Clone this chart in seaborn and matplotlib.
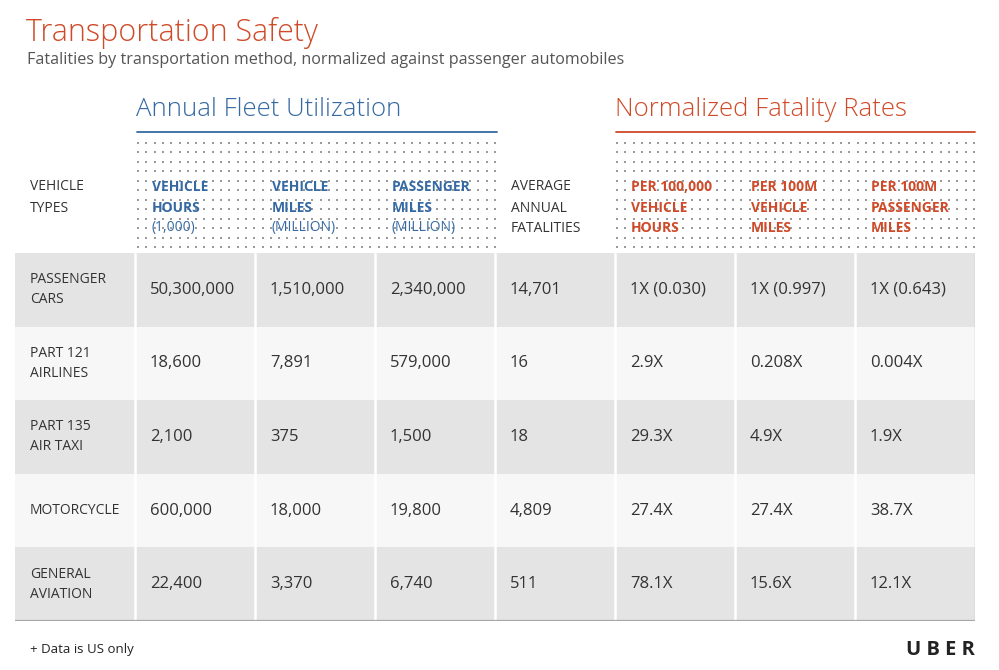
import numpy as np
import matplotlib
matplotlib.use("Agg")
import matplotlib.pyplot as plt
from matplotlib.colors import ListedColormap
import seaborn as sns

# Table content
vehicle_types = ["PASSENGER\nCARS", "PART 121\nAIRLINES", "PART 135\nAIR TAXI",
                 "MOTORCYCLE", "GENERAL\nAVIATION"]
vehicle_hours = ["50,300,000", "18,600", "2,100", "600,000", "22,400"]
vehicle_miles = ["1,510,000", "7,891", "375", "18,000", "3,370"]
passenger_miles = ["2,340,000", "579,000", "1,500", "19,800", "6,740"]
avg_fatalities = ["14,701", "16", "18", "4,809", "511"]
rate_vehicle_hours = ["1X (0.030)", "2.9X", "29.3X", "27.4X", "78.1X"]
rate_vehicle_miles = ["1X (0.997)", "0.208X", "4.9X", "27.4X", "15.6X"]
rate_passenger_miles = ["1X (0.643)", "0.004X", "1.9X", "38.7X", "12.1X"]

columns = [vehicle_types, vehicle_hours, vehicle_miles, passenger_miles,
           avg_fatalities, rate_vehicle_hours, rate_vehicle_miles, rate_passenger_miles]

header_types = ["VEHICLE", "TYPES"]
header_util = [("VEHICLE", "HOURS", "(1,000)"),
               ("VEHICLE", "MILES", "(MILLION)"),
               ("PASSENGER", "MILES", "(MILLION)")]
header_fatal = ["AVERAGE", "ANNUAL", "FATALITIES"]
header_rates = [("PER 100,000", "VEHICLE", "HOURS"),
                ("PER 100M", "VEHICLE", "MILES"),
                ("PER 100M", "PASSENGER", "MILES")]

BLUE = "#3569a3"
RED = "#cf4a28"
TEXT = "#333333"

sns.set_theme(style="white")
plt.rcParams["font.family"] = ["Open Sans", "DejaVu Sans"]

fig = plt.figure(figsize=(9.99, 6.70), dpi=100)
fig.patch.set_facecolor("white")

# pixel-coordinate background axes
bg = fig.add_axes([0, 0, 1, 1])
bg.set_xlim(0, 999)
bg.set_ylim(670, 0)
bg.axis("off")

# titles
bg.text(26, 33, "Transportation Safety", color=RED, fontsize=22, fontweight="light",
        va="center", ha="left")
bg.text(27, 60, "Fatalities by transportation method, normalized against passenger automobiles",
        color="#555555", fontsize=11.6, va="center", ha="left")

# group headers
bg.text(136, 109, "Annual Fleet Utilization", color=BLUE, fontsize=18.5,
        fontweight="light", va="center", ha="left")
bg.plot([137, 497], [131.5, 131.5], color=BLUE, lw=1.3)
bg.text(615, 109, "Normalized Fatality Rates", color=RED, fontsize=18.5,
        fontweight="light", va="center", ha="left")
bg.plot([616, 975], [131.5, 131.5], color=RED, lw=1.3)

# dotted header backgrounds
ys = np.linspace(143, 247, 12)
for x0, x1 in [(138, 498), (617, 977)]:
    xs = np.arange(x0, x1, 8.3)
    gx, gy = np.meshgrid(xs, ys)
    bg.scatter(gx.ravel(), gy.ravel(), s=0.8, marker="s", color="#9a9a9a",
               linewidths=0)

# column headers
line_y = [187, 208, 228]
for k, t in enumerate(header_types):
    bg.text(30, line_y[k], t, color=TEXT, fontsize=10, va="center", ha="left")
for k, t in enumerate(header_fatal):
    bg.text(511, line_y[k], t, color=TEXT, fontsize=10, va="center", ha="left")
for c, lines in enumerate(header_util):
    x = 152 + c * 120
    for k, t in enumerate(lines):
        bg.text(x, line_y[k], t, color=BLUE, fontsize=10,
                fontweight="normal" if k == 2 else "bold", va="center", ha="left")
for c, lines in enumerate(header_rates):
    x = 631 + c * 120
    for k, t in enumerate(lines):
        bg.text(x, line_y[k], t, color=RED, fontsize=10, fontweight="bold",
                va="center", ha="left")

# footer
bg.text(30, 650, "+ Data is US only", color="#222222", fontsize=9.5,
        va="center", ha="left")
bg.text(975, 650, "U B E R", color="#222222", fontsize=14.5, fontweight="bold",
        va="center", ha="right")

# table body drawn as a heatmap of alternating row shades
n_rows = len(vehicle_types)
n_cols = len(columns)
shade = np.array([[i % 2] * n_cols for i in range(n_rows)])
tab = fig.add_axes([15 / 999, 1 - 621 / 670, 960 / 999, 368 / 670])
sns.heatmap(shade, cmap=ListedColormap(["#e4e4e4", "#f7f7f8"]), cbar=False,
            ax=tab, xticklabels=False, yticklabels=False)
for j in range(1, n_cols):
    tab.axvline(j, color="white", lw=1.8)
tab.axhline(n_rows, color="#a8a8a8", lw=1.6)
tab.axvline(n_cols, color="#c0c0c0", lw=1.0)

row_px = 368 / n_rows
for j, col in enumerate(columns):
    for i, val in enumerate(col):
        x = j + 15 / 120
        parts = val.split("\n")
        if len(parts) == 1:
            tab.text(x, i + 0.5, val, color=TEXT, fontsize=12 if j else 10,
                     va="center", ha="left")
        else:
            for k, p in enumerate(parts):
                off = (k - 0.5) * 20 / row_px
                tab.text(x, i + 0.5 + off, p, color=TEXT, fontsize=10,
                         va="center", ha="left")

fig.savefig("out.png", dpi=100, facecolor="white")
